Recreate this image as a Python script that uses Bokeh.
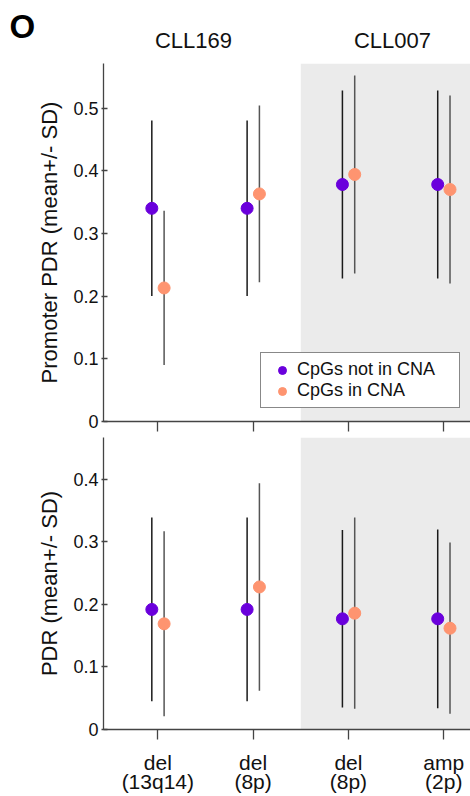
from bokeh.plotting import figure
from bokeh.layouts import column
from bokeh.models import (ColumnDataSource, Range1d, FixedTicker, BoxAnnotation,
                          Legend, LegendItem)
from bokeh.core.properties import value
from bokeh.embed import file_html
from bokeh.resources import INLINE

# ---------------- data ----------------
categories = ["del\n(13q14)", "del\n(8p)", "del\n(8p)", "amp\n(2p)"]
cat_pos = [1, 2, 3, 4]
samples = ["CLL169", "CLL007"]
panel_letter = "O"
series = ["CpGs not in CNA", "CpGs in CNA"]

promoter_not_mean = [0.340, 0.340, 0.378, 0.378]
promoter_not_sd = [0.140, 0.140, 0.150, 0.150]
promoter_in_mean = [0.213, 0.363, 0.394, 0.370]
promoter_in_sd = [0.123, 0.141, 0.158, 0.150]

pdr_not_mean = [0.192, 0.192, 0.177, 0.177]
pdr_not_sd = [0.147, 0.147, 0.142, 0.143]
pdr_in_mean = [0.169, 0.228, 0.186, 0.162]
pdr_in_sd = [0.148, 0.166, 0.153, 0.137]

top_ticks = [0, 0.1, 0.2, 0.3, 0.4, 0.5]
bottom_ticks = [0, 0.1, 0.2, 0.3, 0.4]

# ---------------- style ----------------
FONT = "Liberation Sans"
PURPLE = "#6a00dc"
ORANGE = "#fe9470"
GREY_BG = "#ebebeb"
AX = "#444444"
TXT = "#111111"
OFF_NOT = -0.063
OFF_IN = 0.066
W = 470
LEFT = 103
X0, X1 = 0.43, 4.281


def style_axes(p, yticks, show_x_labels, ylabel):
    p.xaxis.ticker = FixedTicker(ticks=cat_pos)
    p.yaxis.ticker = FixedTicker(ticks=yticks)
    p.yaxis.major_label_overrides = {t: ("0" if t == 0 else f"{t:.1f}") for t in yticks}
    for ax in (p.xaxis[0], p.yaxis[0]):
        ax.axis_line_color = AX
        ax.axis_line_width = 1.3
        ax.major_tick_line_color = AX
        ax.major_tick_line_width = 1.3
        ax.minor_tick_line_color = None
        ax.major_label_text_font = FONT
        ax.major_label_text_color = TXT
    p.yaxis.major_tick_in = 4
    p.yaxis.major_tick_out = 2
    p.yaxis.major_label_standoff = 3
    p.yaxis.major_label_text_font_size = "18px"
    p.yaxis.axis_label = ylabel
    p.yaxis.axis_label_text_font = FONT
    p.yaxis.axis_label_text_font_size = "22px"
    p.yaxis.axis_label_text_font_style = "normal"
    p.yaxis.axis_label_text_color = TXT
    p.yaxis.axis_label_standoff = 8
    p.xaxis.major_tick_in = 0
    p.xaxis.major_tick_out = 10
    if show_x_labels:
        p.xaxis.major_label_overrides = {c: lab for c, lab in zip(cat_pos, categories)}
        p.xaxis.major_label_text_font_size = "21px"
        p.xaxis.major_label_standoff = 11
        p.xaxis.major_label_text_line_height = 0.85
    else:
        p.xaxis.major_label_text_font_size = "1px"
        p.xaxis.major_label_text_color = None
        p.xaxis.major_label_standoff = 0
    p.grid.visible = False
    p.outline_line_color = None
    p.background_fill_color = "white"
    p.border_fill_color = "white"


def draw_series(p, mean_not, sd_not, mean_in, sd_in):
    rends = []
    for mean, sd, off, col, bar in ((mean_not, sd_not, OFF_NOT, PURPLE, "#1a1a1a"),
                                   (mean_in, sd_in, OFF_IN, ORANGE, "#555555")):
        src = ColumnDataSource(dict(
            x=[c + off for c in cat_pos],
            y=mean,
            lo=[m - s for m, s in zip(mean, sd)],
            hi=[m + s for m, s in zip(mean, sd)],
        ))
        p.segment(x0="x", y0="lo", x1="x", y1="hi", source=src,
                  line_color=bar, line_width=1.5)
        r = p.scatter(x="x", y="y", source=src, size=12, marker="circle",
                      fill_color=col, line_color=col)
        rends.append(r)
    return rends


# ---------------- header (panel letter + sample titles) ----------------
header = figure(width=W, height=63, output_backend="svg", toolbar_location=None,
                x_range=Range1d(0, W), y_range=Range1d(0, 63),
                x_axis_type=None, y_axis_type=None,
                min_border=0, min_border_left=0, min_border_right=0,
                min_border_top=0, min_border_bottom=0)
header.title = None
header.frame_align = False
header.outline_line_color = None
header.grid.visible = False
header.text(x=[193, 392], y=[23, 23], text=samples, text_align="center",
            text_baseline="middle", text_font=value(FONT),
            text_font_size="22px", text_color=TXT)
header.text(x=[9], y=[37], text=[panel_letter], text_align="left",
            text_baseline="middle", text_font=value(FONT),
            text_font_size="33px", text_font_style="bold", text_color="black")

# ---------------- top panel ----------------
top = figure(width=W, height=374, output_backend="svg", toolbar_location=None,
             x_range=Range1d(X0, X1), y_range=Range1d(0, 0.571),
             min_border_left=LEFT, min_border_right=0, min_border_top=0,
             min_border_bottom=16)
top.add_layout(BoxAnnotation(left=2.5, fill_color=GREY_BG, fill_alpha=1.0,
                             line_color=None, level="underlay"))
r_top = draw_series(top, promoter_not_mean, promoter_not_sd, promoter_in_mean, promoter_in_sd)
style_axes(top, top_ticks, False, "Promoter PDR (mean+/- SD)")

legend = Legend(items=[LegendItem(label=series[0], renderers=[r_top[0]]),
                       LegendItem(label=series[1], renderers=[r_top[1]])],
                location=(157, 13))
legend.border_line_color = TXT
legend.border_line_width = 1.2
legend.background_fill_color = "white"
legend.background_fill_alpha = 1.0
legend.label_text_font = FONT
legend.label_text_font_size = "18px"
legend.label_text_color = TXT
legend.glyph_width = 30
legend.glyph_height = 20
legend.label_height = 20
legend.label_width = 156
legend.label_standoff = 0
legend.spacing = 0
legend.padding = 6
legend.margin = 0
top.add_layout(legend)

# ---------------- bottom panel ----------------
bot = figure(width=W, height=359, output_backend="svg", toolbar_location=None,
             x_range=Range1d(X0, X1), y_range=Range1d(0, 0.467),
             min_border_left=LEFT, min_border_right=0, min_border_top=0,
             min_border_bottom=67)
bot.add_layout(BoxAnnotation(left=2.5, fill_color=GREY_BG, fill_alpha=1.0,
                             line_color=None, level="underlay"))
draw_series(bot, pdr_not_mean, pdr_not_sd, pdr_in_mean, pdr_in_sd)
style_axes(bot, bottom_ticks, True, "PDR (mean+/- SD)")

layout = column(header, top, bot, spacing=0)
open("out.html", "w").write(file_html(layout, INLINE))
